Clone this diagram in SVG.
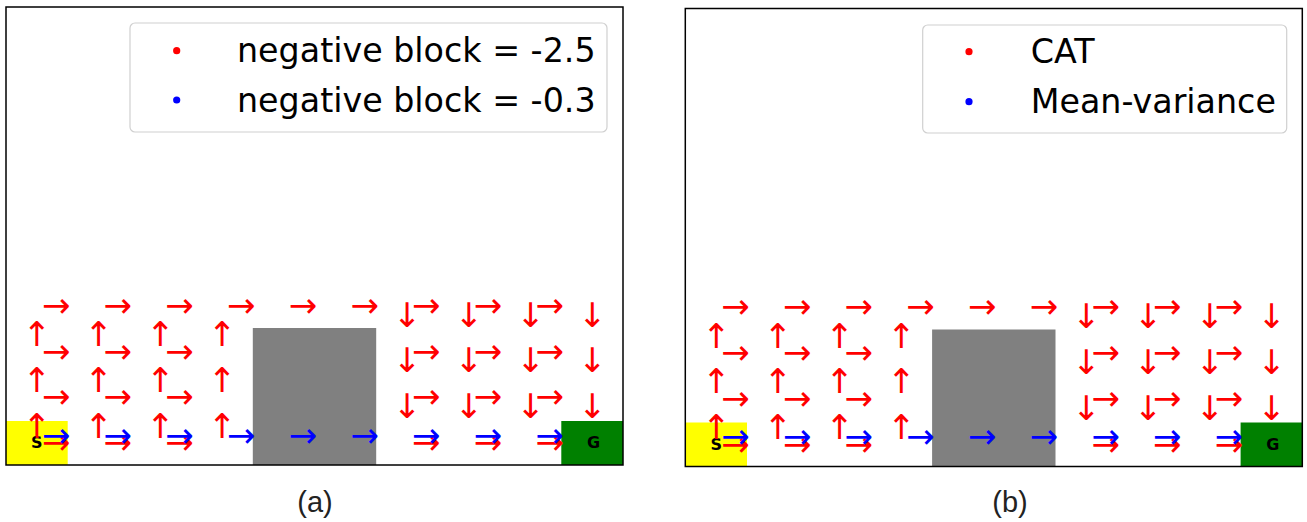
<svg xmlns="http://www.w3.org/2000/svg" width="1307" height="522" viewBox="0 0 1307 522">
<style>
.ar{font-family:"DejaVu Sans",sans-serif;font-size:34px;text-anchor:middle}
.r{fill:#ff0000}
.b{fill:#0000ff}
.lab{font-family:"DejaVu Sans",sans-serif;font-size:16px;font-weight:bold;text-anchor:middle;fill:#000}
.leg{font-family:"DejaVu Sans",sans-serif;font-size:33.3px;fill:#000}
.cap{font-family:"Liberation Sans",Arial,sans-serif;font-size:29px;text-anchor:middle;fill:#222}
.frame{fill:none;stroke:#000;stroke-width:1.5}
.legbox{fill:#fff;stroke:#d0d0d0;stroke-width:1.2}
</style>
<rect width="1307" height="522" fill="#fff"/>

<g id="panel-a" transform="translate(6,7)">
  <rect x="0" y="0" width="617" height="458" fill="#fff"/>
  <rect id="start-a" x="0" y="414" width="61.7" height="44" fill="#ffff00"/>
  <rect id="block-a" x="246.8" y="321" width="123.4" height="137" fill="#808080"/>
  <rect id="goal-a" x="555.3" y="414" width="61.7" height="44" fill="#008000"/>
  <text class="lab" x="30.85" y="441.2">S</text>
  <text class="lab" x="587.5" y="441.2">G</text>
  <g transform="translate(0,11.2)">
    <g class="ar r">
      <text x="50.15" y="298.7">→</text><text x="111.85" y="298.7">→</text><text x="173.55" y="298.7">→</text><text x="235.25" y="298.7">→</text><text x="296.95" y="298.7">→</text><text x="358.65" y="298.7">→</text><text x="420.35" y="298.7">→</text><text x="482.05" y="298.7">→</text><text x="543.75" y="298.7">→</text>
      <text x="50.15" y="344.5">→</text><text x="111.85" y="344.5">→</text><text x="173.55" y="344.5">→</text><text x="420.35" y="344.5">→</text><text x="482.05" y="344.5">→</text><text x="543.75" y="344.5">→</text>
      <text x="50.15" y="390.3">→</text><text x="111.85" y="390.3">→</text><text x="173.55" y="390.3">→</text><text x="420.35" y="390.3">→</text><text x="482.05" y="390.3">→</text><text x="543.75" y="390.3">→</text>
      <text x="50.15" y="436.1">→</text><text x="111.85" y="436.1">→</text><text x="173.55" y="436.1">→</text><text x="420.35" y="436.1">→</text><text x="482.05" y="436.1">→</text><text x="543.75" y="436.1">→</text>
    </g>
    <g class="ar r">
      <text x="30.85" y="328">↑</text><text x="92.55" y="328">↑</text><text x="154.25" y="328">↑</text><text x="215.95" y="328">↑</text>
      <text x="30.85" y="373.8">↑</text><text x="92.55" y="373.8">↑</text><text x="154.25" y="373.8">↑</text><text x="215.95" y="373.8">↑</text>
      <text x="30.85" y="419.6">↑</text><text x="92.55" y="419.6">↑</text><text x="154.25" y="419.6">↑</text><text x="215.95" y="419.6">↑</text>
    </g>
    <g class="ar r">
      <text x="401.05" y="308.5">↓</text><text x="462.75" y="308.5">↓</text><text x="524.45" y="308.5">↓</text><text x="586.15" y="308.5">↓</text>
      <text x="401.05" y="354.3">↓</text><text x="462.75" y="354.3">↓</text><text x="524.45" y="354.3">↓</text><text x="586.15" y="354.3">↓</text>
      <text x="401.05" y="400.1">↓</text><text x="462.75" y="400.1">↓</text><text x="524.45" y="400.1">↓</text><text x="586.15" y="400.1">↓</text>
    </g>
    <g class="ar b">
      <text x="50.15" y="428.8">→</text><text x="111.85" y="428.8">→</text><text x="173.55" y="428.8">→</text><text x="235.25" y="428.8">→</text><text x="296.95" y="428.8">→</text><text x="358.65" y="428.8">→</text><text x="420.35" y="428.8">→</text><text x="482.05" y="428.8">→</text><text x="543.75" y="428.8">→</text>
    </g>
  </g>
  <rect class="frame" x="0" y="0" width="617" height="458"/>
</g>

<g id="legend-a">
  <rect class="legbox" x="130" y="23" width="477" height="109" rx="5"/>
  <circle cx="176.7" cy="50.7" r="3.6" fill="#ff0000"/>
  <circle cx="176.7" cy="100" r="3.6" fill="#0000ff"/>
  <text class="leg" x="237" y="62">negative block = -2.5</text>
  <text class="leg" x="237" y="111.7">negative block = -0.3</text>
</g>

<g id="panel-b" transform="translate(685.3,8.5)">
  <rect x="0" y="0" width="617" height="458" fill="#fff"/>
  <rect id="start-b" x="0" y="414" width="61.7" height="44" fill="#ffff00"/>
  <rect id="block-b" x="246.8" y="321" width="123.4" height="137" fill="#808080"/>
  <rect id="goal-b" x="555.3" y="414" width="61.7" height="44" fill="#008000"/>
  <text class="lab" x="30.85" y="441.2">S</text>
  <text class="lab" x="587.5" y="441.2">G</text>
  <g transform="translate(0,11.2)">
    <g class="ar r">
      <text x="50.15" y="298.7">→</text><text x="111.85" y="298.7">→</text><text x="173.55" y="298.7">→</text><text x="235.25" y="298.7">→</text><text x="296.95" y="298.7">→</text><text x="358.65" y="298.7">→</text><text x="420.35" y="298.7">→</text><text x="482.05" y="298.7">→</text><text x="543.75" y="298.7">→</text>
      <text x="50.15" y="344.5">→</text><text x="111.85" y="344.5">→</text><text x="173.55" y="344.5">→</text><text x="420.35" y="344.5">→</text><text x="482.05" y="344.5">→</text><text x="543.75" y="344.5">→</text>
      <text x="50.15" y="390.3">→</text><text x="111.85" y="390.3">→</text><text x="173.55" y="390.3">→</text><text x="420.35" y="390.3">→</text><text x="482.05" y="390.3">→</text><text x="543.75" y="390.3">→</text>
      <text x="50.15" y="436.1">→</text><text x="111.85" y="436.1">→</text><text x="173.55" y="436.1">→</text><text x="420.35" y="436.1">→</text><text x="482.05" y="436.1">→</text><text x="543.75" y="436.1">→</text>
    </g>
    <g class="ar r">
      <text x="30.85" y="328">↑</text><text x="92.55" y="328">↑</text><text x="154.25" y="328">↑</text><text x="215.95" y="328">↑</text>
      <text x="30.85" y="373.8">↑</text><text x="92.55" y="373.8">↑</text><text x="154.25" y="373.8">↑</text><text x="215.95" y="373.8">↑</text>
      <text x="30.85" y="419.6">↑</text><text x="92.55" y="419.6">↑</text><text x="154.25" y="419.6">↑</text><text x="215.95" y="419.6">↑</text>
    </g>
    <g class="ar r">
      <text x="401.05" y="308.5">↓</text><text x="462.75" y="308.5">↓</text><text x="524.45" y="308.5">↓</text><text x="586.15" y="308.5">↓</text>
      <text x="401.05" y="354.3">↓</text><text x="462.75" y="354.3">↓</text><text x="524.45" y="354.3">↓</text><text x="586.15" y="354.3">↓</text>
      <text x="401.05" y="400.1">↓</text><text x="462.75" y="400.1">↓</text><text x="524.45" y="400.1">↓</text><text x="586.15" y="400.1">↓</text>
    </g>
    <g class="ar b">
      <text x="50.15" y="428.8">→</text><text x="111.85" y="428.8">→</text><text x="173.55" y="428.8">→</text><text x="235.25" y="428.8">→</text><text x="296.95" y="428.8">→</text><text x="358.65" y="428.8">→</text><text x="420.35" y="428.8">→</text><text x="482.05" y="428.8">→</text><text x="543.75" y="428.8">→</text>
    </g>
  </g>
  <rect class="frame" x="0" y="0" width="617" height="458"/>
</g>

<g id="legend-b">
  <rect class="legbox" x="922.7" y="25" width="364" height="108" rx="5"/>
  <circle cx="969" cy="51.7" r="3.6" fill="#ff0000"/>
  <circle cx="969" cy="101.7" r="3.6" fill="#0000ff"/>
  <text class="leg" x="1030.7" y="63.3">CAT</text>
  <text class="leg" x="1030.7" y="112.7">Mean-variance</text>
</g>

<text class="cap" x="315" y="511.7">(a)</text>
<text class="cap" x="1010" y="511.7">(b)</text>
</svg>
